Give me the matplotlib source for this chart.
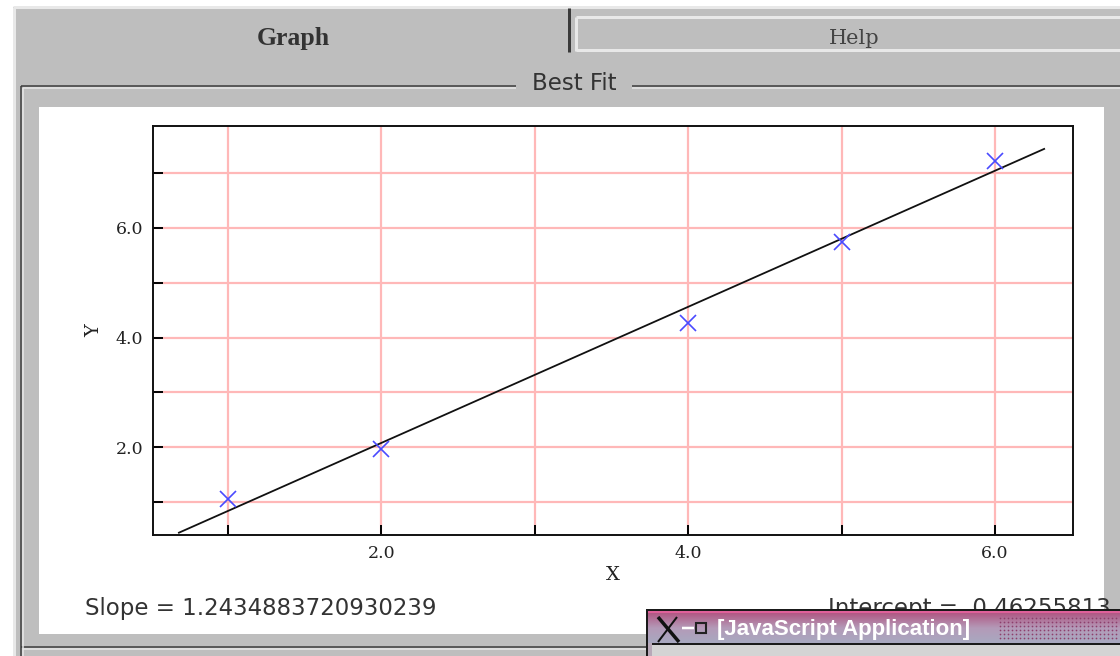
import numpy as np
import matplotlib
matplotlib.use('Agg')
import matplotlib.pyplot as plt
from matplotlib.patches import Rectangle
from matplotlib.colors import LinearSegmentedColormap

# data
point_x = [1.0, 2.0, 4.0, 5.0, 6.0]
point_y = [1.05, 1.97, 4.26, 5.74, 7.22]
line_x = [0.68, 6.32]
line_y = [0.44, 7.44]
x_ticks = [1, 2, 3, 4, 5, 6]
y_ticks = [1, 2, 3, 4, 5, 6, 7]
x_labels = ['', '2.0', '', '4.0', '', '6.0']
y_labels = ['', '2.0', '', '4.0', '', '6.0', '']

GRAY = '#bebebe'
LIGHT = '#e8e8e8'
DARK = '#3a3a3a'
PINK = '#ffb8b8'
PX = 0.72  # one pixel in points at dpi 100

fig = plt.figure(figsize=(11.2, 6.56), dpi=100, facecolor='white')


def pixel_axes(zorder):
    a = fig.add_axes([0, 0, 1, 1], zorder=zorder)
    a.set_xlim(0, 1120)
    a.set_ylim(656, 0)
    a.axis('off')
    return a


def box(a, x0, y0, x1, y1, color, z=1):
    a.add_patch(Rectangle((x0, y0), x1 - x0, y1 - y0, facecolor=color, edgecolor='none', zorder=z))


def seg(a, xs, ys, color, px=2):
    a.plot(xs, ys, color=color, lw=px * PX, solid_capstyle='butt', zorder=3)


# window chrome behind the plot
bg = pixel_axes(0)
box(bg, 13, 7, 1120, 656, GRAY)
box(bg, 39, 107, 1104, 634, 'white', z=2)
seg(bg, [13, 1120], [7, 7], LIGHT, 3)
seg(bg, [14, 14], [7, 656], LIGHT, 3)

# tabs
seg(bg, [569, 569], [8, 52], DARK, 3)
seg(bg, [576, 1120], [17, 17], LIGHT, 3)
seg(bg, [576, 1120], [50, 50], LIGHT, 3)
seg(bg, [576, 576], [17, 51], LIGHT, 3)
bg.text(293, 38, 'Graph', family='Liberation Serif', weight='bold', fontsize=18.5,
        color='#333333', ha='center', va='center', zorder=4)
bg.text(854, 38, 'Help', family='DejaVu Serif', fontsize=15, color='#444444',
        ha='center', va='center', zorder=4)

# etched frame round the panel
for c, off in ((DARK, 0), (LIGHT, 2)):
    seg(bg, [21 + off, 516], [86 + off, 86 + off], c, 1.5)
    seg(bg, [632, 1120], [86 + off, 86 + off], c, 1.5)
    seg(bg, [21 + off, 21 + off], [86 + off, 656], c, 1.5)
    seg(bg, [21 + off, 660], [647 + off, 647 + off], c, 1.5)
bg.text(574, 84, 'Best Fit', family='DejaVu Sans', fontsize=16.5, color='#333333',
        ha='center', va='center', zorder=4)

# readouts under the plot
bg.text(85, 609, 'Slope = 1.2434883720930239', family='DejaVu Sans', fontsize=16.5,
        color='#333333', ha='left', va='center', zorder=4)
bg.text(828, 609, 'Intercept =  0.46255813', family='DejaVu Sans', fontsize=16.5,
        color='#333333', ha='left', va='center', zorder=4)

# the plot itself
ax = fig.add_axes([153 / 1120, (656 - 535) / 656, 920 / 1120, 409 / 656], zorder=1)
ax.set_xlim(0.511, 6.508)
ax.set_ylim(0.398, 7.858)
ax.set_xticks(x_ticks)
ax.set_xticklabels(x_labels, family='DejaVu Serif', fontsize=12.5, color='#222222')
ax.set_yticks(y_ticks)
ax.set_yticklabels(y_labels, family='DejaVu Serif', fontsize=12.5, color='#222222')
ax.tick_params(direction='in', length=7.5, width=1.4, pad=7)
ax.grid(True, color=PINK, lw=1.6)
ax.set_axisbelow(True)
for s in ax.spines.values():
    s.set_linewidth(1.4)
    s.set_color('#111111')
ax.plot(line_x, line_y, color='#111111', lw=1.3, zorder=3)
ax.plot(point_x, point_y, ls='none', marker='x', ms=12, mew=1.2, color='#4a4aff', zorder=4)
ax.set_xlabel('X', family='DejaVu Serif', fontsize=14, color='#222222', labelpad=3)
ax.set_ylabel('Y', family='DejaVu Serif', fontsize=14, color='#222222', labelpad=9)

# overlapping application window in the corner
top = pixel_axes(2)
box(top, 646, 609, 1120, 656, '#1a1a1a')
box(top, 648, 611, 1120, 613, '#e0609a', z=2)
box(top, 648, 643, 652, 656, '#b8a8b8', z=2)
box(top, 652, 645, 1120, 656, '#d4d4d4', z=2)
ramp = LinearSegmentedColormap.from_list('title', ['#b05a85', '#b49ab8', '#a8a8c0'])
top.imshow(np.linspace(0, 1, 32).reshape(-1, 1), cmap=ramp, aspect='auto',
           extent=(648, 1120, 643, 613), zorder=2)
top.set_xlim(0, 1120)
top.set_ylim(656, 0)
dots_x, dots_y = np.meshgrid(np.arange(1000, 1120, 4), np.arange(618, 642, 4))
top.scatter(dots_x.ravel(), dots_y.ravel(), s=1.5, color='#8e3f6c', linewidths=0, zorder=3)
seg(top, [658, 679], [617, 642], '#111111', 3.5)
seg(top, [658, 677], [642, 617], '#111111', 2)
seg(top, [682, 694], [628, 628], 'white', 2.5)
top.plot([701], [628], marker='s', ms=7, mfc='none', mec='#222222', mew=1.5, zorder=4)
top.text(717, 629, '[JavaScript Application]', family='Liberation Sans', weight='bold',
         fontsize=16, color='white', ha='left', va='center', zorder=4)

fig.savefig('out.png', dpi=100)
